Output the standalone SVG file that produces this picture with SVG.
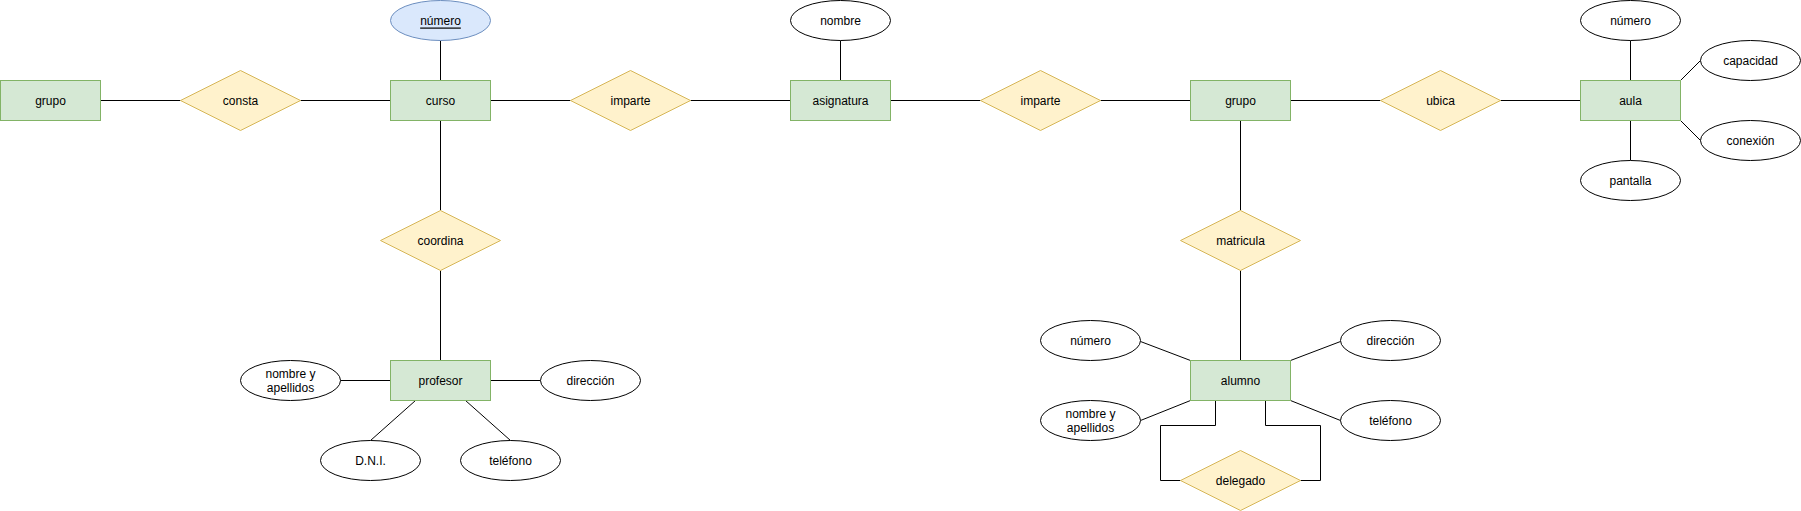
<svg xmlns="http://www.w3.org/2000/svg" width="1801" height="511" viewBox="0 0 1801 511">
<style>
.ent{fill:#d5e8d4;stroke:#82b366;stroke-width:1}
.rel{fill:#fff2cc;stroke:#d6b656;stroke-width:1}
.att{fill:#ffffff;stroke:#000000;stroke-width:1}
.key{fill:#dae8fc;stroke:#6c8ebf;stroke-width:1}
.edge{fill:none;stroke:#000000;stroke-width:1}
text{font-family:"Liberation Sans",Arial,Helvetica,sans-serif;font-size:12px;fill:#000000;text-anchor:middle;dominant-baseline:central}
</style>
<rect width="1801" height="511" fill="#ffffff"/>
<g transform="translate(0.5,0.5)">
<g id="connectors">
<path class="edge" d="M100 100H180"/>
<path class="edge" d="M300 100H390"/>
<path class="edge" d="M440 40V80"/>
<path class="edge" d="M490 100H570"/>
<path class="edge" d="M440 120V210"/>
<path class="edge" d="M440 270V360"/>
<path class="edge" d="M340 380H390"/>
<path class="edge" d="M490 380H540"/>
<path class="edge" d="M415 400L370 440"/>
<path class="edge" d="M465 400L510 440"/>
<path class="edge" d="M690 100H790"/>
<path class="edge" d="M840 40V80"/>
<path class="edge" d="M890 100H980"/>
<path class="edge" d="M1100 100H1190"/>
<path class="edge" d="M1240 120V210"/>
<path class="edge" d="M1240 270V360"/>
<path class="edge" d="M1140 341L1190 360"/>
<path class="edge" d="M1290 360L1340 341"/>
<path class="edge" d="M1190 400L1140 420"/>
<path class="edge" d="M1290 400L1340 420"/>
<path class="edge" d="M1215 400V425H1160V480H1180"/>
<path class="edge" d="M1265 400V425H1320V480H1300"/>
<path class="edge" d="M1290 100H1380"/>
<path class="edge" d="M1500 100H1580"/>
<path class="edge" d="M1630 40V80"/>
<path class="edge" d="M1680 80L1700 60"/>
<path class="edge" d="M1680 120L1700 140"/>
<path class="edge" d="M1630 120V160"/>
</g>
<g id="grupo1"><rect class="ent" x="0" y="80" width="100" height="40"/><text x="50" y="100">grupo</text></g>
<g id="consta"><path class="rel" d="M240 70L300 100L240 130L180 100Z"/><text x="240" y="100">consta</text></g>
<g id="curso"><rect class="ent" x="390" y="80" width="100" height="40"/><text x="440" y="100">curso</text></g>
<g id="curso_numero"><ellipse class="key" cx="440" cy="20" rx="50" ry="20"/><text x="440" y="20" text-decoration="underline">número</text></g>
<g id="coordina"><path class="rel" d="M440 210L500 240L440 270L380 240Z"/><text x="440" y="240">coordina</text></g>
<g id="profesor"><rect class="ent" x="390" y="360" width="100" height="40"/><text x="440" y="380">profesor</text></g>
<g id="prof_nombre"><ellipse class="att" cx="290" cy="380" rx="50" ry="20"/><text x="290" y="373">nombre y</text><text x="290" y="387">apellidos</text></g>
<g id="prof_direccion"><ellipse class="att" cx="590" cy="380" rx="50" ry="20"/><text x="590" y="380">dirección</text></g>
<g id="prof_dni"><ellipse class="att" cx="370" cy="460" rx="50" ry="20"/><text x="370" y="460">D.N.I.</text></g>
<g id="prof_telefono"><ellipse class="att" cx="510" cy="460" rx="50" ry="20"/><text x="510" y="460">teléfono</text></g>
<g id="imparte1"><path class="rel" d="M630 70L690 100L630 130L570 100Z"/><text x="630" y="100">imparte</text></g>
<g id="asignatura"><rect class="ent" x="790" y="80" width="100" height="40"/><text x="840" y="100">asignatura</text></g>
<g id="asig_nombre"><ellipse class="att" cx="840" cy="20" rx="50" ry="20"/><text x="840" y="20">nombre</text></g>
<g id="imparte2"><path class="rel" d="M1040 70L1100 100L1040 130L980 100Z"/><text x="1040" y="100">imparte</text></g>
<g id="grupo2"><rect class="ent" x="1190" y="80" width="100" height="40"/><text x="1240" y="100">grupo</text></g>
<g id="matricula"><path class="rel" d="M1240 210L1300 240L1240 270L1180 240Z"/><text x="1240" y="240">matricula</text></g>
<g id="alumno"><rect class="ent" x="1190" y="360" width="100" height="40"/><text x="1240" y="380">alumno</text></g>
<g id="alu_numero"><ellipse class="att" cx="1090" cy="340" rx="50" ry="20"/><text x="1090" y="340">número</text></g>
<g id="alu_direccion"><ellipse class="att" cx="1390" cy="340" rx="50" ry="20"/><text x="1390" y="340">dirección</text></g>
<g id="alu_nombre"><ellipse class="att" cx="1090" cy="420" rx="50" ry="20"/><text x="1090" y="413">nombre y</text><text x="1090" y="427">apellidos</text></g>
<g id="alu_telefono"><ellipse class="att" cx="1390" cy="420" rx="50" ry="20"/><text x="1390" y="420">teléfono</text></g>
<g id="delegado"><path class="rel" d="M1240 450L1300 480L1240 510L1180 480Z"/><text x="1240" y="480">delegado</text></g>
<g id="ubica"><path class="rel" d="M1440 70L1500 100L1440 130L1380 100Z"/><text x="1440" y="100">ubica</text></g>
<g id="aula"><rect class="ent" x="1580" y="80" width="100" height="40"/><text x="1630" y="100">aula</text></g>
<g id="aula_numero"><ellipse class="att" cx="1630" cy="20" rx="50" ry="20"/><text x="1630" y="20">número</text></g>
<g id="aula_capacidad"><ellipse class="att" cx="1750" cy="60" rx="50" ry="20"/><text x="1750" y="60">capacidad</text></g>
<g id="aula_conexion"><ellipse class="att" cx="1750" cy="140" rx="50" ry="20"/><text x="1750" y="140">conexión</text></g>
<g id="aula_pantalla"><ellipse class="att" cx="1630" cy="180" rx="50" ry="20"/><text x="1630" y="180">pantalla</text></g>
</g>
</svg>
